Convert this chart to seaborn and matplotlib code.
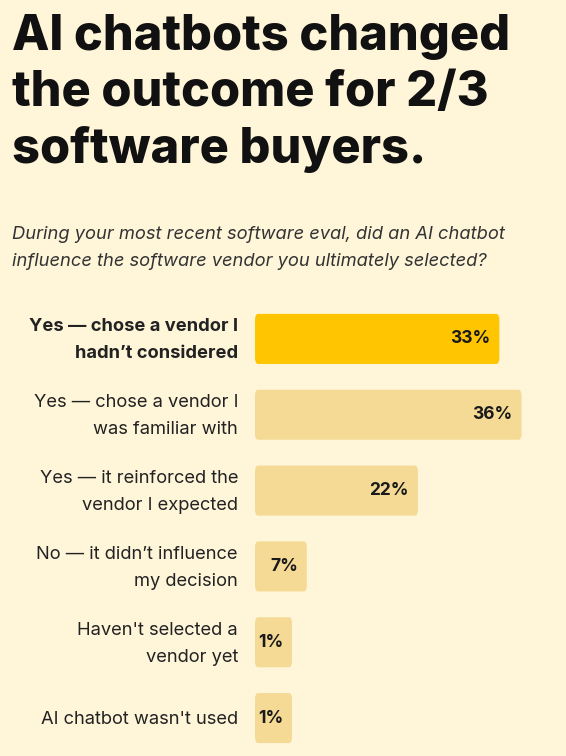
import matplotlib
matplotlib.use("Agg")
import matplotlib.pyplot as plt
import seaborn as sns
import pandas as pd
from matplotlib.patches import FancyBboxPatch

# --- dados ---
answers = [
    "Yes \u2014 chose a vendor I\nhadn\u2019t considered",
    "Yes \u2014 chose a vendor I\nwas familiar with",
    "Yes \u2014 it reinforced the\nvendor I expected",
    "No \u2014 it didn\u2019t influence\nmy decision",
    "Haven't selected a\nvendor yet",
    "AI chatbot wasn't used",
]
shares = [33, 36, 22, 7, 1, 1]
title = "AI chatbots changed\nthe outcome for 2/3\nsoftware buyers."
subtitle = ("During your most recent software eval, did an AI chatbot\n"
            "influence the software vendor you ultimately selected?")

BG = "#FFF6DA"
HIGHLIGHT = "#FFC500"
OTHER = "#F5DA95"
MIN_W = 5  # largura minima visivel para as barras pequenas

df = pd.DataFrame({"answer": answers, "share": shares})
df["shown"] = df["share"].clip(lower=MIN_W)

sns.set_style("white")
plt.rcParams["font.family"] = ["Inter", "DejaVu Sans"]

fig = plt.figure(figsize=(5.66, 7.56), dpi=100, facecolor=BG)
ax = fig.add_axes([255 / 566, 0, 311 / 566, 455 / 756])
ax.set_facecolor(BG)

colors = [HIGHLIGHT] + [OTHER] * (len(df) - 1)
sns.barplot(data=df, x="shown", y="answer", hue="answer", palette=colors,
            orient="h", width=0.66, saturation=1, legend=False, ax=ax)

# barras arredondadas
for p in list(ax.patches):
    x, y, w, h = p.get_x(), p.get_y(), p.get_width(), p.get_height()
    rb = FancyBboxPatch((x, y), w, h, boxstyle="round,pad=0,rounding_size=0.4",
                        facecolor=p.get_facecolor(), edgecolor="none",
                        mutation_aspect=h / 3.2)
    p.remove()
    ax.add_patch(rb)

ax.set_xlim(0, 42)
ax.set_ylim(5.5, -0.5)
ax.axis("off")

for i, (lab, v, s) in enumerate(zip(df["answer"], df["share"], df["shown"])):
    ax.text(s - 1.2, i, f"{v}%", ha="right", va="center", fontsize=12.5,
            fontweight="bold", color="#1a1a1a")
    fig.text(238 / 566, 1 - (340 + 76 * i) / 756 if i < 5 else 1 - 719 / 756,
             lab, ha="right", va="center", fontsize=13.2, color="#222222",
             fontweight="bold" if i == 0 else "normal", linespacing=1.7)

fig.text(12 / 566, 1 - 14 / 756, title, ha="left", va="top", fontsize=35,
         fontweight="heavy", color="#111111", linespacing=1.27)
fig.text(12 / 566, 1 - 226 / 756, subtitle, ha="left", va="top", fontsize=13.2,
         style="italic", color="#333333", linespacing=1.8)

fig.savefig("out.png", dpi=100, facecolor=BG)
